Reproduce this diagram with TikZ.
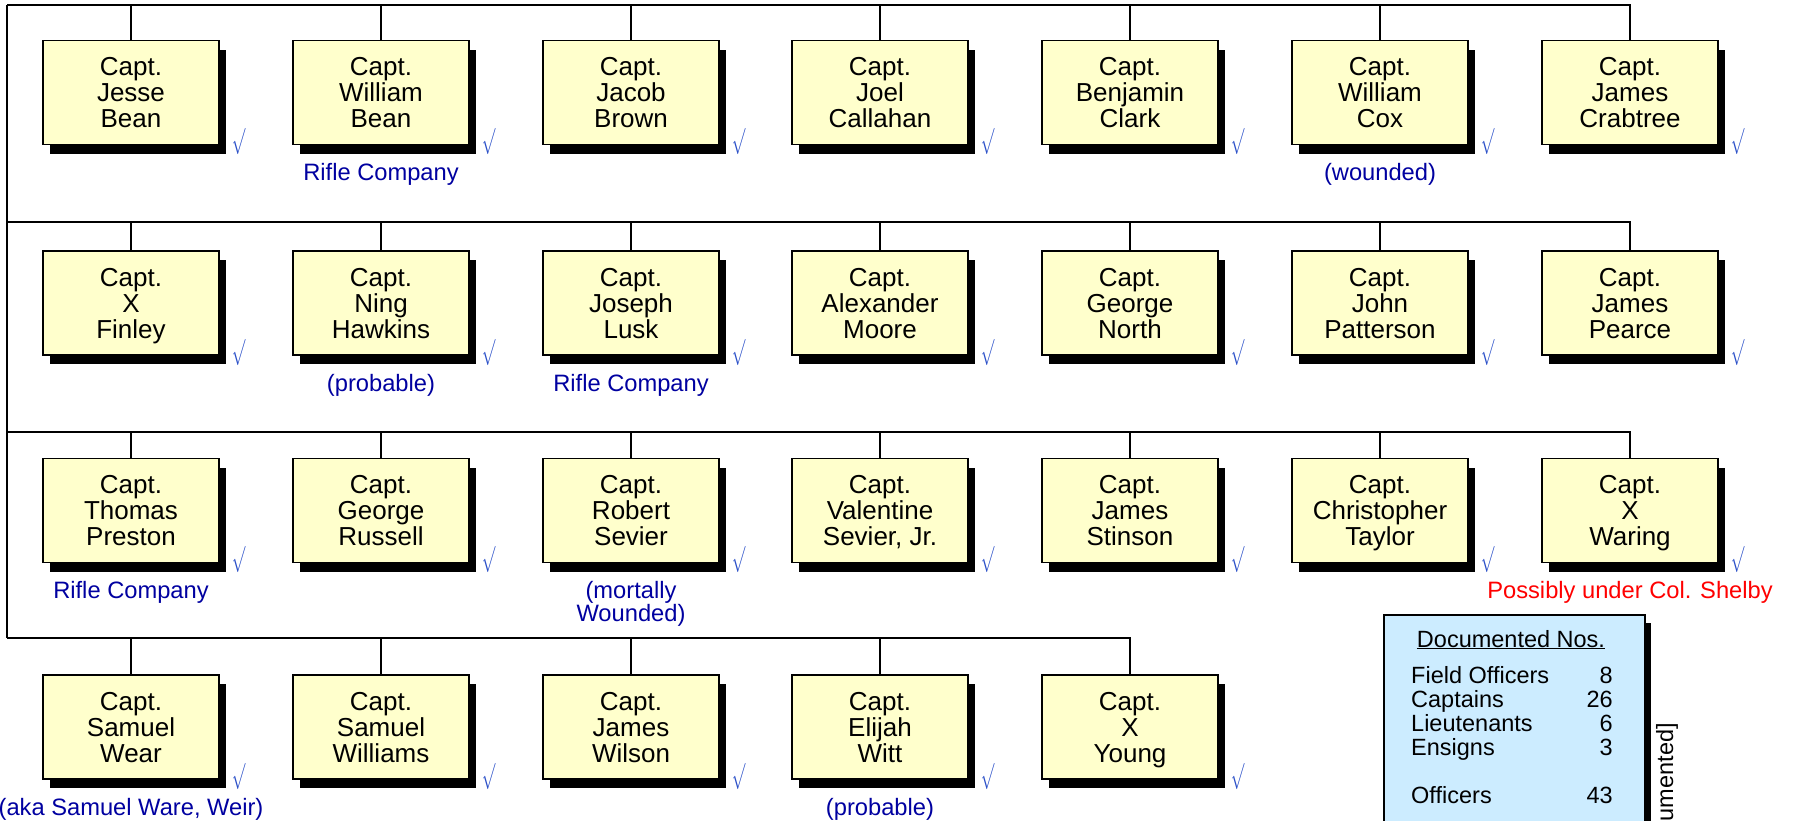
\documentclass[tikz,border=0pt]{standalone}
\usepackage{graphicx}
\usepackage{fontspec}
\setmainfont{Liberation Sans}
\usetikzlibrary{positioning,shadows}
\definecolor{captfill}{HTML}{FFFFCC}
\definecolor{nosfill}{HTML}{CCECFF}
\definecolor{annblue}{HTML}{0000A0}
\definecolor{chkblue}{HTML}{2A4FC8}
\newcommand{\tick}{\scalebox{0.65}[1.05]{$\surd$}}

\begin{document}
\begin{tikzpicture}[x=1pt,y=-1pt,
  capt/.style={rectangle,draw=black,line width=1.5pt,fill=captfill,minimum width=176pt,minimum height=104pt,
    align=center,inner sep=0pt,text height=71pt,text depth=1pt,font=\fontsize{26}{26}\selectfont,
    drop shadow={shadow xshift=7pt,shadow yshift=-9pt,fill=black,opacity=1}},
  ann/.style={text=annblue,align=center,inner sep=0pt,font=\fontsize{23.7}{23}\selectfont},
  chk/.style={text=chkblue,inner sep=0pt,anchor=south west,font=\fontsize{26}{26}\selectfont},
  nos/.style={rectangle,draw=black,line width=2pt,fill=nosfill,minimum width=261pt,minimum height=300pt,
    drop shadow={shadow xshift=6pt,shadow yshift=-8pt,fill=black,opacity=1}},
  tally/.style={inner sep=0pt,font=\fontsize{23.5}{24}\selectfont},
  bus/.style={line width=2pt},
  link/.style={line width=1.5pt}]
\useasboundingbox (0,0) rectangle (1794,820);

% bus ends on the left spine
\coordinate (b1) at (7,5);
\coordinate (b2) at (7,222);
\coordinate (b3) at (7,432);
\coordinate (b4) at (7,638);

% row 1
\node[capt] (c1) at (131,92.5)  {Capt.\\Jesse\\Bean};
\node[capt] (c2) at (381,92.5)  {Capt.\\William\\Bean};
\node[capt] (c3) at (631,92.5)  {Capt.\\Jacob\\Brown};
\node[capt] (c4) at (880,92.5)  {Capt.\\Joel\\Callahan};
\node[capt] (c5) at (1130,92.5) {Capt.\\Benjamin\\Clark};
\node[capt] (c6) at (1380,92.5) {Capt.\\William\\Cox};
\node[capt] (c7) at (1630,92.5) {Capt.\\James\\Crabtree};
% row 2
\node[capt] (c8) at (131,303)   {Capt.\\X\\Finley};
\node[capt] (c9) at (381,303)   {Capt.\\Ning\\Hawkins};
\node[capt] (c10) at (631,303)  {Capt.\\Joseph\\Lusk};
\node[capt] (c11) at (880,303)  {Capt.\\Alexander\\Moore};
\node[capt] (c12) at (1130,303) {Capt.\\George\\North};
\node[capt] (c13) at (1380,303) {Capt.\\John\\Patterson};
\node[capt] (c14) at (1630,303) {Capt.\\James\\Pearce};
% row 3
\node[capt] (c15) at (131,510.5)  {Capt.\\Thomas\\Preston};
\node[capt] (c16) at (381,510.5)  {Capt.\\George\\Russell};
\node[capt] (c17) at (631,510.5)  {Capt.\\Robert\\Sevier};
\node[capt] (c18) at (880,510.5)  {Capt.\\Valentine\\Sevier, Jr.};
\node[capt] (c19) at (1130,510.5) {Capt.\\James\\Stinson};
\node[capt] (c20) at (1380,510.5) {Capt.\\Christopher\\Taylor};
\node[capt] (c21) at (1630,510.5) {Capt.\\X\\Waring};
% row 4
\node[capt] (c22) at (131,727)  {Capt.\\Samuel\\Wear};
\node[capt] (c23) at (381,727)  {Capt.\\Samuel\\Williams};
\node[capt] (c24) at (631,727)  {Capt.\\James\\Wilson};
\node[capt] (c25) at (880,727)  {Capt.\\Elijah\\Witt};
\node[capt] (c26) at (1130,727) {Capt.\\X\\Young};

\foreach \n in {1,...,26}
  \node[chk] (k\n) at ([shift={(12,10)}]c\n.south east) {\tick};

% notes under the boxes
\node[ann,below=18pt of c2] (a2) {Rifle Company};
\node[ann,below=18pt of c6] (a6) {(wounded)};
\node[ann,below=18pt of c9] (a9) {(probable)};
\node[ann,below=18pt of c10] (a10) {Rifle Company};
\node[ann,below=18pt of c15] (a15) {Rifle Company};
\node[ann,below=18pt of c17] (a17) {(mortally\\Wounded)};
\node[ann,below=18pt of c21,text=red] (a21) {Possibly under Col. Shelby};
\node[ann,below=18pt of c22] (a22) {(aka Samuel Ware, Weir)};
\node[ann,below=18pt of c25] (a25) {(probable)};

% spine and buses
\draw[bus] (b1) -- (b4);
\draw[bus] (b1) -| (c7.north);
\draw[bus] (b2) -| (c14.north);
\draw[bus] (b3) -| (c21.north);
\draw[bus] (b4) -| (c26.north);
\foreach \from/\to in {c1/b1,c2/b1,c3/b1,c4/b1,c5/b1,c6/b1,
  c8/b2,c9/b2,c10/b2,c11/b2,c12/b2,c13/b2,
  c15/b3,c16/b3,c17/b3,c18/b3,c19/b3,c20/b3,
  c22/b4,c23/b4,c24/b4,c25/b4}
  \draw[link] (\from.north) -- (\from.north |- \to);

% documented numbers
\node[nos] (box) at (1514.5,765) {};
\node[tally,anchor=base] (hdr) at (1511,647) {\underline{Documented Nos.}};
\node[tally,anchor=base west] (l1) at (1411,683) {Field Officers};
\node[tally,anchor=base west] (l2) at (1411,707) {Captains};
\node[tally,anchor=base west] (l3) at (1411,731) {Lieutenants};
\node[tally,anchor=base west] (l4) at (1411,755) {Ensigns};
\node[tally,anchor=base west] (l5) at (1411,803) {Officers};
\node[tally,anchor=base east] (v1) at (1613,683) {8};
\node[tally,anchor=base east] (v2) at (1613,707) {26};
\node[tally,anchor=base east] (v3) at (1613,731) {6};
\node[tally,anchor=base east] (v4) at (1613,755) {3};
\node[tally,anchor=base east] (v5) at (1613,803) {43};
\node[tally,rotate=90,anchor=east] (undoc) at (1667,723) {umented]};

\end{tikzpicture}
\end{document}
